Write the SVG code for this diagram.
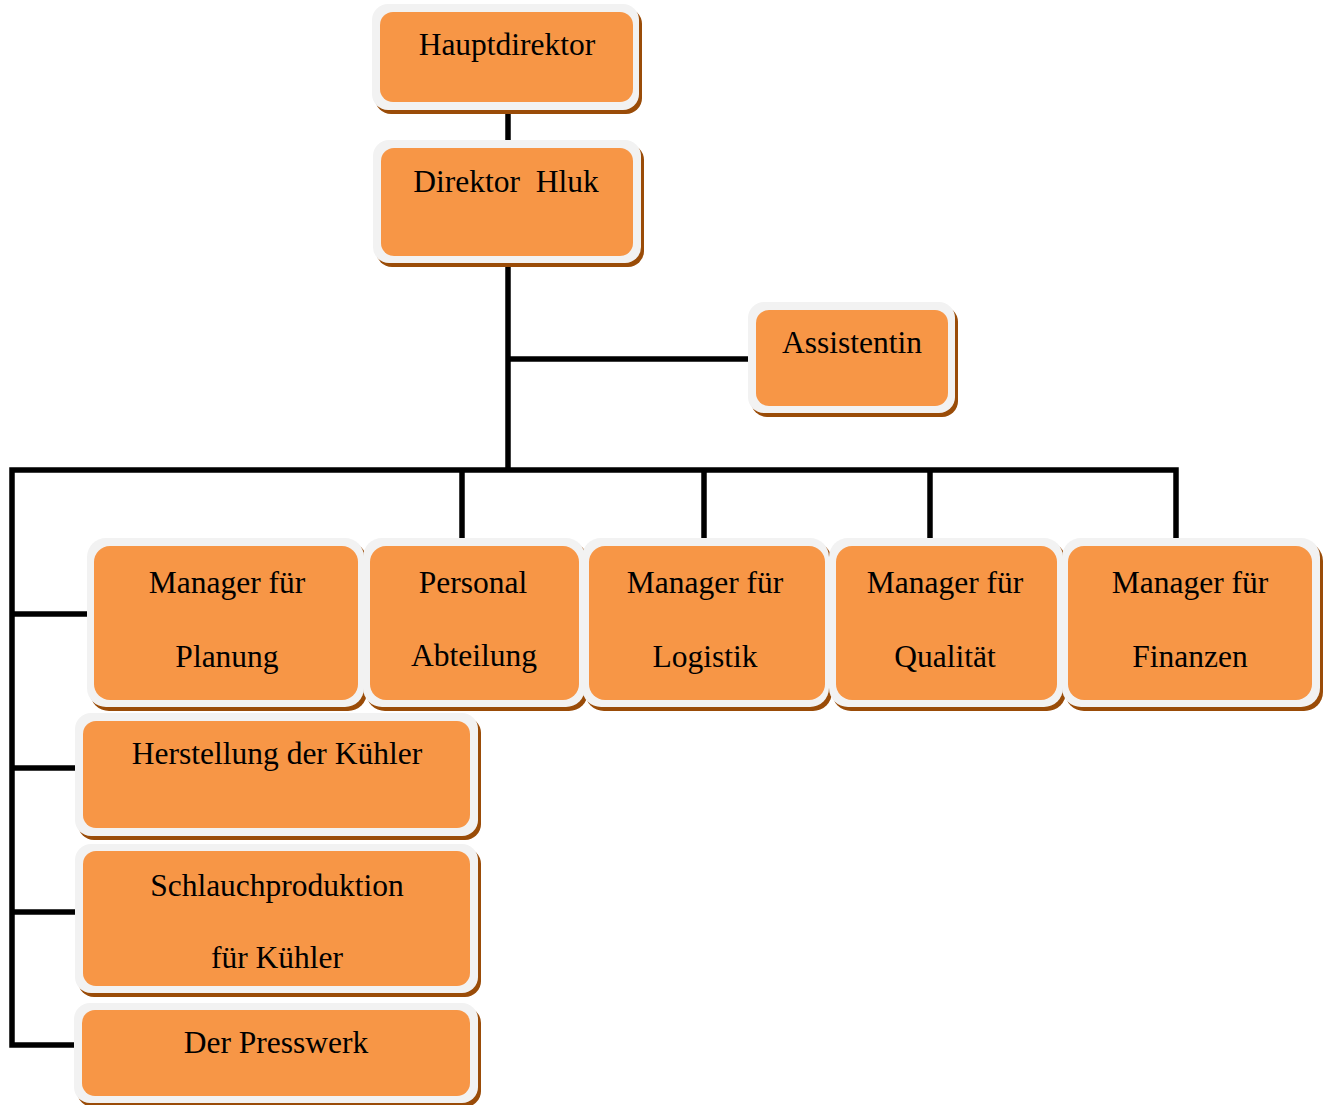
<svg xmlns="http://www.w3.org/2000/svg" width="1331" height="1105" viewBox="0 0 1331 1105">
<style>
.sh{fill:#9a4c08}
.bd{fill:#f2f2f2}
.in{fill:#f79646}
text{font-family:"Liberation Serif","Times New Roman",serif;font-size:31.5px;fill:#000;text-anchor:middle;white-space:pre}
.ln{fill:none;stroke:#000;stroke-width:5.5;stroke-linejoin:miter;stroke-linecap:butt}
</style>
<rect width="1331" height="1105" fill="#fff"/>
<g id="connectors">
<path class="ln" d="M508,110 V141"/>
<path class="ln" d="M508,263 V470"/>
<path class="ln" d="M508,359 H749"/>
<path class="ln" d="M1176,541 V470 H12 V1045 H76"/>
<path class="ln" d="M462,470 V541"/>
<path class="ln" d="M704,470 V541"/>
<path class="ln" d="M930,470 V541"/>
<path class="ln" d="M12,614 H88"/>
<path class="ln" d="M12,768 H76"/>
<path class="ln" d="M12,912 H76"/>
</g>
<g id="n-hauptdirektor">
<rect class="sh" x="375" y="8" width="267" height="106" rx="16"/>
<rect class="bd" x="372" y="4" width="267" height="106" rx="16"/>
<rect class="in" x="380" y="12" width="253" height="90" rx="13"/>
<text x="507" y="55">Hauptdirektor</text>
</g>
<g id="n-direktor">
<rect class="sh" x="376" y="144" width="268" height="123" rx="16"/>
<rect class="bd" x="373" y="140" width="268" height="123" rx="16"/>
<rect class="in" x="381" y="148" width="252" height="108" rx="13"/>
<text x="506" y="192">Direktor  Hluk</text>
</g>
<g id="n-assistentin">
<rect class="sh" x="751" y="306" width="207" height="111" rx="16"/>
<rect class="bd" x="748" y="302" width="207" height="111" rx="16"/>
<rect class="in" x="756" y="310" width="192" height="96" rx="13"/>
<text x="852" y="353">Assistentin</text>
</g>
<g id="n-planung">
<rect class="sh" x="90" y="542" width="277" height="169" rx="19"/>
<rect class="bd" x="87" y="538" width="277" height="169" rx="19"/>
<rect class="in" x="94" y="546" width="264" height="154" rx="16"/>
<text x="227" y="593">Manager für</text>
<text x="227" y="667">Planung</text>
</g>
<g id="n-personal">
<rect class="sh" x="366" y="542" width="222" height="169" rx="19"/>
<rect class="bd" x="363" y="538" width="222" height="169" rx="19"/>
<rect class="in" x="370" y="546" width="209" height="154" rx="16"/>
<text x="473" y="593">Personal</text>
<text x="474" y="666">Abteilung</text>
</g>
<g id="n-logistik">
<rect class="sh" x="585" y="542" width="247" height="169" rx="19"/>
<rect class="bd" x="582" y="538" width="247" height="169" rx="19"/>
<rect class="in" x="589" y="546" width="236" height="154" rx="16"/>
<text x="705" y="593">Manager für</text>
<text x="705" y="667">Logistik</text>
</g>
<g id="n-qualitaet">
<rect class="sh" x="832" y="542" width="234" height="169" rx="19"/>
<rect class="bd" x="829" y="538" width="234" height="169" rx="19"/>
<rect class="in" x="836" y="546" width="221" height="154" rx="16"/>
<text x="945" y="593">Manager für</text>
<text x="945" y="667">Qualität</text>
</g>
<g id="n-finanzen">
<rect class="sh" x="1065" y="542" width="258" height="169" rx="19"/>
<rect class="bd" x="1062" y="538" width="258" height="169" rx="19"/>
<rect class="in" x="1068" y="546" width="244" height="154" rx="16"/>
<text x="1190" y="593">Manager für</text>
<text x="1190" y="667">Finanzen</text>
</g>
<g id="n-herstellung">
<rect class="sh" x="78" y="717" width="403" height="123" rx="16"/>
<rect class="bd" x="75" y="713" width="403" height="123" rx="16"/>
<rect class="in" x="83" y="721" width="387" height="107" rx="13"/>
<text x="277" y="764">Herstellung der Kühler</text>
</g>
<g id="n-schlauch">
<rect class="sh" x="78" y="848" width="403" height="149" rx="16"/>
<rect class="bd" x="75" y="844" width="403" height="149" rx="16"/>
<rect class="in" x="83" y="851" width="387" height="135" rx="13"/>
<text x="277" y="896">Schlauchproduktion</text>
<text x="277" y="968">für Kühler</text>
</g>
<g id="n-presswerk">
<rect class="sh" x="77" y="1007" width="404" height="100" rx="16"/>
<rect class="bd" x="74" y="1003" width="404" height="100" rx="16"/>
<rect class="in" x="82" y="1010" width="388" height="86" rx="13"/>
<text x="276" y="1053">Der Presswerk</text>
</g>
</svg>
